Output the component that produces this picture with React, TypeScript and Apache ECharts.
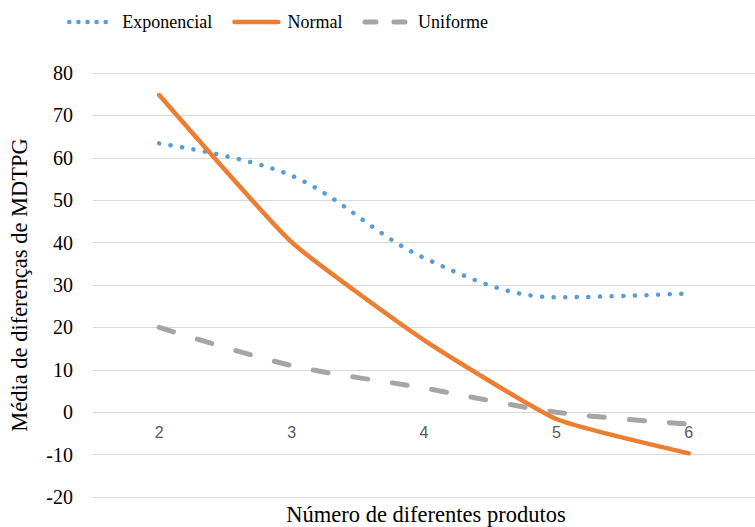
import React, { useEffect, useRef } from "react";
import * as echarts from "echarts";

const categories = ["2", "3", "4", "5", "6"];
const exponencial = [63.4, 55.8, 36.4, 27.1, 28.0];
const normal = [74.8, 40.1, 17.0, -1.6, -9.7];
const uniforme = [20.0, 11.0, 5.7, 0.0, -2.8];
const yTicks = { min: -20, max: 80, interval: 10 };
const legendNames = ["Exponencial", "Normal", "Uniforme"];

export default function App() {
  const ref = useRef<HTMLDivElement>(null);
  useEffect(() => {
    const chart = echarts.init(ref.current!, null, { renderer: "svg" });
    const serif = "'Liberation Serif', 'Times New Roman', serif";
    const blue = "#5B9BD5";
    const orange = "#ED7D31";
    const gray = "#A5A5A5";
    chart.setOption({
      animation: false,
      backgroundColor: "#ffffff",
      legend: {
        top: 8,
        left: 62,
        itemWidth: 44,
        itemHeight: 12,
        itemGap: 20,
        textStyle: { fontFamily: serif, fontSize: 18, color: "#000", padding: [0, 0, 0, 4] },
        itemStyle: { opacity: 0 },
        data: [
          { name: legendNames[0], lineStyle: { width: 4.5, type: [0.1, 9], cap: "round", color: blue } },
          { name: legendNames[1], lineStyle: { width: 4.5, cap: "round", color: orange } },
          { name: legendNames[2], lineStyle: { width: 5, type: [11, 18], cap: "round", color: gray } },
        ],
      },
      grid: { left: 92, top: 73, width: 668, height: 424, containLabel: false },
      xAxis: {
        type: "category",
        data: categories,
        boundaryGap: true,
        offset: -85,
        axisLine: { onZero: false, lineStyle: { color: "#D9D9D9", width: 1 } },
        axisTick: { show: false },
        axisLabel: {
          color: "#595959",
          fontFamily: "'Liberation Sans', Arial, sans-serif",
          fontSize: 16,
          margin: 12,
        },
      },
      yAxis: {
        type: "value",
        min: yTicks.min,
        max: yTicks.max,
        interval: yTicks.interval,
        axisLine: { show: false },
        axisTick: { show: false },
        splitLine: { lineStyle: { color: "#D9D9D9", width: 1 } },
        axisLabel: { color: "#000", fontFamily: serif, fontSize: 20, margin: 20 },
        name: "Média de diferenças de MDTPG",
        nameLocation: "middle",
        nameRotate: 90,
        nameGap: 62,
        nameTextStyle: { fontFamily: serif, fontSize: 22.5, color: "#000" },
      },
      graphic: [
        {
          type: "text",
          x: 426,
          y: 514,
          style: {
            text: "Número de diferentes produtos",
            font: "22.5px " + serif,
            fill: "#000",
            textAlign: "center",
            textVerticalAlign: "middle",
          },
        },
      ],
      series: [
        {
          name: legendNames[0],
          type: "line",
          data: exponencial,
          smooth: 0.35,
          showSymbol: false,
          symbol: "none",
          color: blue,
          lineStyle: { color: blue, width: 4.5, type: [0.1, 11.5], cap: "round" },
        },
        {
          name: legendNames[1],
          type: "line",
          data: normal,
          smooth: 0.15,
          showSymbol: false,
          symbol: "none",
          color: orange,
          lineStyle: { color: orange, width: 4.5, cap: "round" },
        },
        {
          name: legendNames[2],
          type: "line",
          data: uniforme,
          smooth: 0.3,
          showSymbol: false,
          symbol: "none",
          color: gray,
          lineStyle: { color: gray, width: 5, type: [15, 25], cap: "round" },
        },
      ],
    });
    return () => chart.dispose();
  }, []);
  return <div ref={ref} style={{ width: 755, height: 527, position: "absolute", left: 0, top: 0 }} />;
}
